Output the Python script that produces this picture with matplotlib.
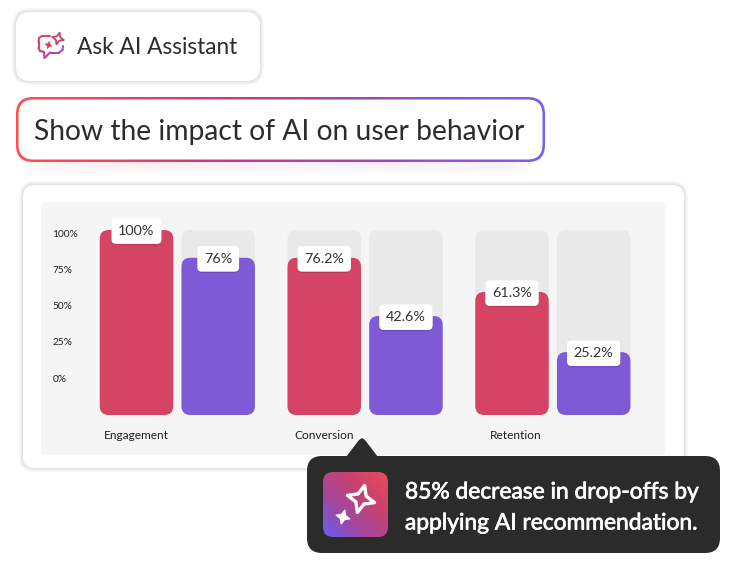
import numpy as np
import matplotlib
matplotlib.use("Agg")
import matplotlib.pyplot as plt
from matplotlib.patches import FancyBboxPatch, Polygon
from matplotlib.collections import LineCollection
from matplotlib.colors import LinearSegmentedColormap
import matplotlib.patheffects as pe

plt.rcParams['font.family'] = ['Lato', 'DejaVu Sans']

categories = ["Engagement", "Conversion", "Retention"]
tick_labels = ["100%", "75%", "50%", "25%", "0%"]
tick_pos = [97.9, 78.5, 59, 39.5, 20]   # the axis labels do not line up with the bars
# drawn bar heights, they differ from the printed numbers
red_heights = [100, 85, 66.5]
purple_heights = [85, 53.5, 34]
red_labels = ["100%", "76.2%", "61.3%"]
purple_labels = ["76%", "42.6%", "25.2%"]

W, H = 750, 563
fig = plt.figure(figsize=(7.5, 5.63), dpi=100)

def px_axes(z):
    a = fig.add_axes([0, 0, 1, 1], zorder=z)
    a.set_xlim(0, W)
    a.set_ylim(H, 0)
    a.axis("off")
    return a

def rrect(a, x0, y0, x1, y1, r, **kw):
    kw.setdefault("lw", 0)
    p = FancyBboxPatch((x0, y0), x1 - x0, y1 - y0, boxstyle=f"round,pad=0,rounding_size={r}", **kw)
    a.add_patch(p)
    return p

def shadow(a, x0, y0, x1, y1, r, spread=4, alpha=0.028, color="black", dy=0, zorder=1):
    for s in range(spread, 0, -1):
        rrect(a, x0 - s, y0 - s + dy, x1 + s, y1 + s + dy, r + s, fc=color, alpha=alpha, zorder=zorder)

def gradient(a, x0, y0, x1, y1, clip, cmap, diag=False):
    xx, yy = np.meshgrid(np.linspace(0, 1, 200), np.linspace(0, 1, 200))
    g = (xx + (1 - yy)) / 2 if diag else xx
    im = a.imshow(g, extent=(x0, x1, y1, y0), cmap=cmap, aspect="auto", zorder=clip.get_zorder())
    im.set_clip_path(clip)
    a.set_xlim(0, W)
    a.set_ylim(H, 0)

def star(a, cx, cy, r, **kw):
    ang = np.arange(8) * np.pi / 4 + np.radians(15)
    rad = np.where(np.arange(8) % 2 == 0, r, r * 0.42)
    pts = np.c_[cx + rad * np.cos(ang), cy + rad * np.sin(ang)]
    a.add_patch(Polygon(pts, closed=True, joinstyle="round", **kw))

bg = px_axes(1)
bg.set_facecolor("white")

# ask button
shadow(bg, 16, 12, 260, 81, 14)
rrect(bg, 16, 12, 260, 81, 14, fc="white", zorder=2)
bg.text(77, 48, "Ask AI Assistant", fontsize=16.3, color="#2c2c2c", va="center", zorder=3)

# chat icon
bubble = np.array([[50, 36], [42, 36], [39, 38], [38.5, 42], [38.5, 48], [40, 51], [44, 52],
                   [44.5, 58], [50, 52.5], [59, 52.5], [62.5, 50], [63, 46]])
seg = np.stack([bubble[:-1], bubble[1:]], axis=1)
icon_cmap = LinearSegmentedColormap.from_list("icon", ["#e8455f", "#c9407f", "#9a52c8"])
lc = LineCollection(seg, array=np.linspace(0, 1, len(seg)), cmap=icon_cmap, lw=1.5, capstyle="round", zorder=3)
bg.add_collection(lc)
star(bg, 58, 38.5, 6, fc="white", ec="#c8406f", lw=1.3, zorder=3)
star(bg, 48.5, 45, 3.6, fc="#d8405f", ec="#d8405f", lw=0.5, zorder=3)

# prompt box, soft coloured glow below it
grad_cmap = LinearSegmentedColormap.from_list("grad", ["#ff5050", "#d03c78", "#a048b0", "#7b60f0"])
gx = np.linspace(0, 1, 300)
gy = np.linspace(0, 1, 40)
glow = np.zeros((len(gy), len(gx), 4))
glow[..., :3] = grad_cmap(gx)[:, :3]
edge = np.clip(gx / 0.06, 0, 1) * np.clip((1 - gx) / 0.06, 0, 1)
glow[..., 3] = 0.16 * np.outer((1 - gy) ** 2, edge)
bg.imshow(glow, extent=(20, 540, 184, 156), aspect="auto", zorder=2)
bg.set_xlim(0, W)
bg.set_ylim(H, 0)
outer = rrect(bg, 16, 97, 545, 162, 17, fc="none", zorder=3)
gradient(bg, 16, 97, 545, 162, outer, grad_cmap)
rrect(bg, 18.5, 99.5, 542.5, 159.5, 15, fc="white", zorder=4)
bg.text(34, 132, "Show the impact of AI on user behavior", fontsize=20.3, color="#2c2c2c", va="center", zorder=5)

# card and grey panel
shadow(bg, 23, 185, 684, 468, 12, zorder=5)
rrect(bg, 23, 185, 684, 468, 12, fc="white", zorder=6)
rrect(bg, 41, 202, 665, 455, 5, fc="#f5f5f5", zorder=7)

# chart
ax_x0, ax_x1, ax_top, ax_bot = 90, 640, 230, 415
ax = fig.add_axes([ax_x0 / W, 1 - ax_bot / H, (ax_x1 - ax_x0) / W, (ax_bot - ax_top) / H], zorder=2)
ax.patch.set_alpha(0)
for sp in ax.spines.values():
    sp.set_visible(False)
group_px = 187.75
ax.set_xlim((ax_x0 - 136.5) / group_px, (ax_x1 - 136.5) / group_px)
ax.set_ylim(0, 100)
bar_w = 73.5 / group_px
offset = 81.7 / group_px
asp = group_px / 1.85
rad = 9 / group_px
x = np.arange(len(categories))

def rbar(xc, h, color, z):
    ax.add_patch(FancyBboxPatch((xc - bar_w / 2, 0), bar_w, h, boxstyle=f"round,pad=0,rounding_size={rad}",
                                mutation_aspect=asp, fc=color, lw=0, zorder=z, clip_on=False))

def value_label(xc, h, s):
    # box sits a little under the bar top
    t = ax.text(xc, h - 0.6, s, ha="center", va="center", fontsize=10.4, color="#333333", zorder=6,
                bbox=dict(boxstyle="round,pad=0.47,rounding_size=0.3", fc="white", ec="none"))
    t.get_bbox_patch().set_path_effects([pe.withSimplePatchShadow(offset=(0, -1), alpha=0.12, shadow_rgbFace="black")])

for i in x:
    rbar(i, 100, "#e9e9e9", 2)
    rbar(i + offset, 100, "#e9e9e9", 2)
    rbar(i, red_heights[i], "#d64465", 3)
    rbar(i + offset, purple_heights[i], "#7e5ad6", 3)
    value_label(i, red_heights[i], red_labels[i])
    value_label(i + offset, purple_heights[i], purple_labels[i])

ax.set_xticks([0, 1, 2.02], categories, fontsize=8.6, color="#1f1f1f")
ax.set_yticks(tick_pos, tick_labels, fontsize=7.3, color="#1f1f1f", ha="left")
ax.tick_params(axis="x", length=0, pad=11)
ax.tick_params(axis="y", length=0, pad=27)

# tooltip on top of the card
top = px_axes(3)
top.patch.set_alpha(0)
rrect(top, 307, 456, 720, 553, 15, fc="#2b2b2b")
top.add_patch(Polygon([[346, 457], [359, 440], [362, 438], [365, 440], [378, 457]], closed=True, fc="#2b2b2b", lw=0))
icon_grad = LinearSegmentedColormap.from_list("tip", ["#6460f2", "#a2479f", "#c9426f", "#ea4b5c"])
tile = rrect(top, 323, 472, 388, 537, 10, fc="none")
gradient(top, 323, 472, 388, 537, tile, icon_grad, diag=True)
star(top, 361, 499, 14, fc="none", ec="white", lw=2.4, zorder=5)
star(top, 343, 517, 7, fc="white", ec="white", lw=1, zorder=5)
bold = [pe.withStroke(linewidth=0.5, foreground="white")]
top.text(405, 492, "85% decrease in drop-offs by", fontsize=16.4, color="white", va="center", path_effects=bold)
top.text(405, 523, "applying AI recommendation.", fontsize=16.4, color="white", va="center", path_effects=bold)

fig.savefig("out.png", dpi=100)
